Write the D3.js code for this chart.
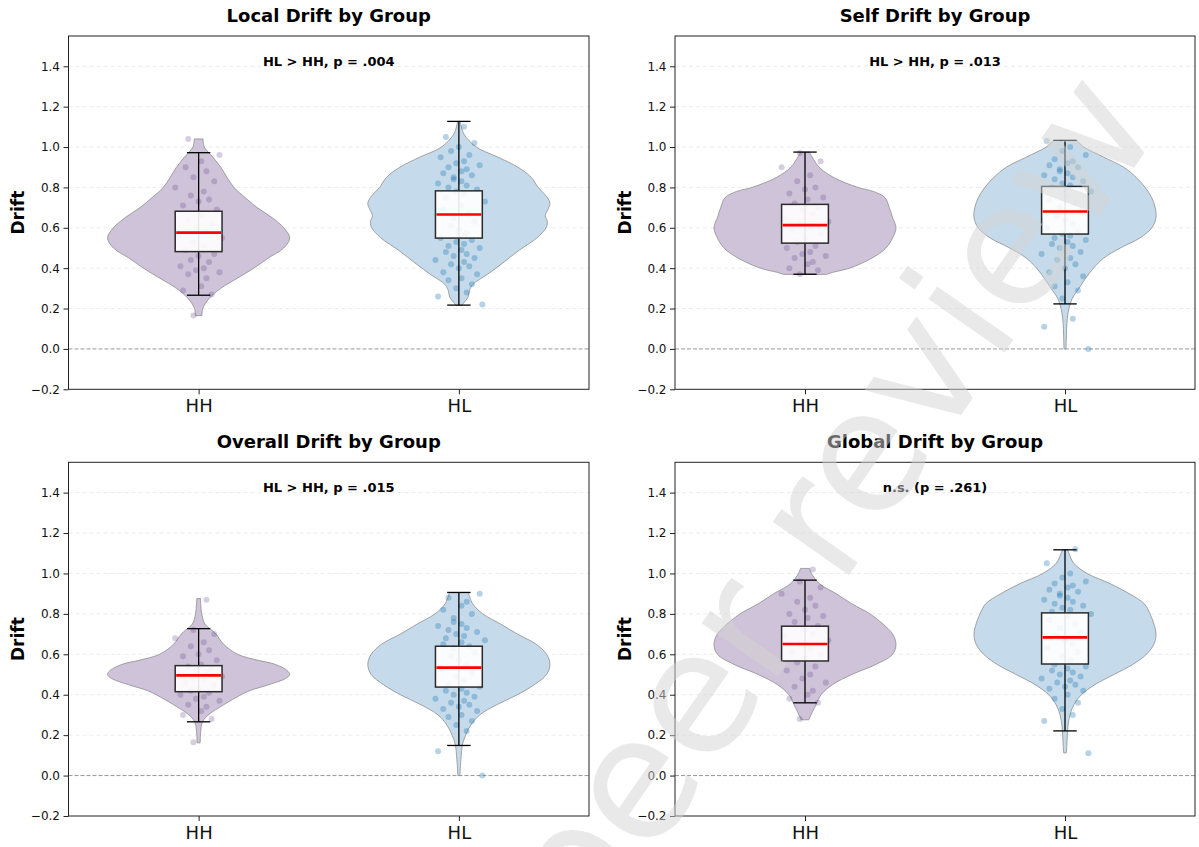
<!DOCTYPE html>
<html>
<head>
<meta charset="utf-8">
<script src="https://cdn.jsdelivr.net/npm/d3@7"></script>
<style>
  body { margin: 0; background: #fff; }
  svg { display: block; font-family: 'DejaVu Sans', sans-serif; }
</style>
</head>
<body>
<svg id="chart" width="1199" height="847"></svg>
<script>
const groups = ['HH', 'HL']
const yTicks = [-0.2, 0, 0.2, 0.4, 0.6, 0.8, 1.0, 1.2, 1.4]
const panelTitles = ['Local Drift by Group', 'Self Drift by Group', 'Overall Drift by Group', 'Global Drift by Group']
const pLabels = ['HL > HH, p = .004', 'HL > HH, p = .013', 'HL > HH, p = .015', 'n.s. (p = .261)']

// box stats: [whisker low, q1, median, q3, whisker high]
const localBoxHH = [0.266, 0.482, 0.576, 0.682, 0.972]
const localBoxHL = [0.217, 0.549, 0.666, 0.783, 1.127]
const selfBoxHH = [0.370, 0.524, 0.613, 0.716, 0.975]
const selfBoxHL = [0.223, 0.569, 0.681, 0.805, 1.033]
const overallBoxHH = [0.266, 0.415, 0.496, 0.544, 0.727]
const overallBoxHL = [0.149, 0.438, 0.534, 0.640, 0.906]
const globalBoxHH = [0.360, 0.567, 0.651, 0.739, 0.967]
const globalBoxHL = [0.221, 0.552, 0.684, 0.805, 1.117]

// violin outlines: [drift, density]
const localViolinHH = [[0.165, 0.013], [0.2, 0.016], [0.25, 0.041], [0.3, 0.086], [0.35, 0.15], [0.4, 0.214], [0.45, 0.27], [0.5, 0.33], [0.55, 0.353], [0.6, 0.33], [0.65, 0.285], [0.7, 0.227], [0.75, 0.18], [0.8, 0.137], [0.85, 0.11], [0.9, 0.086], [0.95, 0.055], [1.0, 0.022], [1.04, 0.017]]
const localViolinHL = [[0.215, 0.01], [0.23, 0.02], [0.256, 0.035], [0.29, 0.041], [0.32, 0.054], [0.37, 0.11], [0.42, 0.163], [0.49, 0.233], [0.55, 0.30], [0.6, 0.335], [0.63, 0.34], [0.66, 0.332], [0.69, 0.342], [0.72, 0.35], [0.75, 0.34], [0.8, 0.305], [0.85, 0.278], [0.9, 0.227], [0.95, 0.15], [1.0, 0.067], [1.065, 0.019], [1.127, 0.005]]
const selfViolinHH = [[0.369, 0.083], [0.38, 0.11], [0.4, 0.173], [0.45, 0.26], [0.5, 0.314], [0.55, 0.34], [0.6, 0.353], [0.65, 0.34], [0.7, 0.327], [0.75, 0.31], [0.78, 0.265], [0.8, 0.205], [0.85, 0.11], [0.9, 0.055], [0.95, 0.028], [0.975, 0.017]]
const selfViolinHL = [[0.0, 0.004], [0.05, 0.005], [0.1, 0.006], [0.15, 0.009], [0.2, 0.015], [0.25, 0.028], [0.3, 0.054], [0.35, 0.08], [0.4, 0.11], [0.45, 0.15], [0.5, 0.214], [0.55, 0.29], [0.6, 0.336], [0.65, 0.352], [0.7, 0.349], [0.75, 0.335], [0.8, 0.31], [0.85, 0.275], [0.9, 0.227], [0.95, 0.15], [1.0, 0.073], [1.033, 0.045]]
const overallViolinHH = [[0.162, 0.006], [0.2, 0.007], [0.25, 0.011], [0.27, 0.017], [0.3, 0.037], [0.35, 0.096], [0.4, 0.163], [0.42, 0.196], [0.45, 0.27], [0.48, 0.334], [0.5, 0.35], [0.52, 0.34], [0.55, 0.295], [0.57, 0.23], [0.6, 0.15], [0.65, 0.096], [0.7, 0.067], [0.72, 0.05], [0.75, 0.024], [0.8, 0.012], [0.85, 0.008], [0.876, 0.007]]
const overallViolinHL = [[0.0, 0.004], [0.05, 0.006], [0.1, 0.009], [0.15, 0.013], [0.2, 0.026], [0.25, 0.046], [0.3, 0.08], [0.35, 0.145], [0.4, 0.225], [0.45, 0.29], [0.5, 0.337], [0.55, 0.35], [0.6, 0.337], [0.65, 0.297], [0.7, 0.225], [0.75, 0.16], [0.8, 0.092], [0.85, 0.053], [0.906, 0.036]]
const globalViolinHH = [[0.276, 0.015], [0.3, 0.023], [0.35, 0.042], [0.4, 0.062], [0.45, 0.106], [0.5, 0.18], [0.55, 0.273], [0.6, 0.337], [0.65, 0.35], [0.7, 0.337], [0.75, 0.3], [0.8, 0.25], [0.85, 0.18], [0.9, 0.12], [0.95, 0.055], [1.0, 0.025], [1.025, 0.017]]
const globalViolinHL = [[0.112, 0.005], [0.15, 0.007], [0.2, 0.009], [0.25, 0.012], [0.3, 0.019], [0.35, 0.034], [0.4, 0.063], [0.45, 0.115], [0.5, 0.188], [0.55, 0.261], [0.6, 0.313], [0.65, 0.342], [0.7, 0.35], [0.75, 0.342], [0.8, 0.327], [0.85, 0.305], [0.9, 0.247], [0.95, 0.173], [1.0, 0.085], [1.05, 0.034], [1.1, 0.015], [1.117, 0.01]]

// individual subjects (a readable subset of the dots)
const localPtsHH = [0.165, 0.27, 0.29, 0.31, 0.35, 0.37, 0.38, 0.39, 0.40, 0.41, 0.43, 0.44, 0.46, 0.47, 0.49, 0.51, 0.53, 0.55, 0.57, 0.58, 0.6, 0.62, 0.64, 0.66, 0.69, 0.71, 0.73, 0.74, 0.76, 0.78, 0.8, 0.83, 0.85, 0.88, 0.9, 0.93, 0.96, 1.04]
const localPtsHL = [0.22, 0.26, 0.28, 0.3, 0.32, 0.34, 0.35, 0.37, 0.38, 0.4, 0.41, 0.42, 0.43, 0.44, 0.45, 0.46, 0.47, 0.48, 0.49, 0.5, 0.51, 0.52, 0.53, 0.54, 0.55, 0.57, 0.59, 0.61, 0.63, 0.65, 0.67, 0.69, 0.71, 0.73, 0.75, 0.77, 0.78, 0.79, 0.8, 0.81, 0.82, 0.83, 0.84, 0.85, 0.86, 0.87, 0.88, 0.89, 0.9, 0.91, 0.92, 0.93, 0.95, 0.96, 0.98, 1.0, 1.02, 1.05, 1.1]
const selfPtsHH = [0.37, 0.39, 0.40, 0.42, 0.43, 0.45, 0.46, 0.47, 0.48, 0.5, 0.51, 0.53, 0.55, 0.57, 0.59, 0.6, 0.62, 0.63, 0.65, 0.67, 0.69, 0.7, 0.72, 0.74, 0.75, 0.77, 0.79, 0.8, 0.83, 0.86, 0.9, 0.93, 0.97]
const selfPtsHL = [0.0, 0.11, 0.15, 0.25, 0.29, 0.31, 0.33, 0.36, 0.38, 0.4, 0.42, 0.44, 0.45, 0.47, 0.48, 0.5, 0.51, 0.52, 0.53, 0.54, 0.55, 0.56, 0.57, 0.58, 0.6, 0.62, 0.64, 0.66, 0.68, 0.7, 0.72, 0.74, 0.76, 0.78, 0.8, 0.81, 0.82, 0.83, 0.84, 0.85, 0.86, 0.87, 0.88, 0.89, 0.9, 0.91, 0.92, 0.93, 0.94, 0.96, 0.98, 1.0, 1.03]
const overallPtsHH = [0.165, 0.28, 0.3, 0.32, 0.34, 0.35, 0.37, 0.38, 0.39, 0.4, 0.41, 0.42, 0.43, 0.45, 0.46, 0.47, 0.48, 0.49, 0.5, 0.51, 0.52, 0.53, 0.54, 0.55, 0.57, 0.59, 0.6, 0.62, 0.64, 0.66, 0.68, 0.7, 0.72, 0.87]
const overallPtsHL = [0.0, 0.12, 0.22, 0.25, 0.27, 0.29, 0.3, 0.32, 0.33, 0.34, 0.35, 0.36, 0.37, 0.38, 0.39, 0.4, 0.41, 0.42, 0.43, 0.44, 0.45, 0.47, 0.49, 0.51, 0.53, 0.55, 0.57, 0.59, 0.61, 0.63, 0.64, 0.65, 0.66, 0.67, 0.68, 0.69, 0.7, 0.71, 0.72, 0.73, 0.74, 0.75, 0.76, 0.78, 0.8, 0.82, 0.84, 0.86, 0.88, 0.9]
const globalPtsHH = [0.28, 0.36, 0.38, 0.4, 0.42, 0.44, 0.46, 0.48, 0.5, 0.52, 0.54, 0.56, 0.58, 0.6, 0.61, 0.63, 0.65, 0.67, 0.69, 0.7, 0.72, 0.74, 0.76, 0.78, 0.79, 0.8, 0.82, 0.84, 0.86, 0.88, 0.9, 0.93, 0.96, 1.02]
const globalPtsHL = [0.11, 0.27, 0.3, 0.33, 0.36, 0.38, 0.4, 0.42, 0.43, 0.44, 0.45, 0.46, 0.47, 0.48, 0.49, 0.5, 0.51, 0.52, 0.53, 0.54, 0.55, 0.57, 0.59, 0.61, 0.63, 0.65, 0.67, 0.69, 0.71, 0.73, 0.75, 0.77, 0.79, 0.8, 0.81, 0.82, 0.83, 0.84, 0.85, 0.86, 0.87, 0.88, 0.89, 0.9, 0.91, 0.92, 0.93, 0.94, 0.95, 0.96, 0.98, 1.0, 1.05, 1.12]

// horizontal jitter of the dots, in category units
const jitter = [-0.02, 0.05, -0.06, 0.01, 0.03, -0.04, 0.08, -0.01, 0.02, -0.07, 0.04, -0.03, 0.0, 0.06, -0.05, 0.02, -0.02, 0.09, -0.08, 0.03, -0.01, 0.05, -0.04, 0.01, 0.07, -0.06, 0.0, 0.04, -0.03, 0.02, -0.09, 0.06, -0.02, 0.03, -0.05, 0.01, 0.08, -0.04, 0.02, -0.01, 0.05, -0.07, 0.03, 0.0, -0.03, 0.06, -0.02, 0.04, -0.06, 0.01, 0.1, -0.05, 0.02, -0.01, 0.07, -0.04, 0.03, -0.08, 0.01, -0.02]

const violinFill = ['#cfc3d9', '#c5dbeb']
const dotColor = ['#5b3a84', '#1f77b4']

const panels = [
  { violins: [localViolinHH, localViolinHL], boxes: [localBoxHH, localBoxHL], pts: [localPtsHH, localPtsHL] },
  { violins: [selfViolinHH, selfViolinHL], boxes: [selfBoxHH, selfBoxHL], pts: [selfPtsHH, selfPtsHL] },
  { violins: [overallViolinHH, overallViolinHL], boxes: [overallBoxHH, overallBoxHL], pts: [overallPtsHH, overallPtsHL] },
  { violins: [globalViolinHH, globalViolinHL], boxes: [globalBoxHH, globalBoxHL], pts: [globalPtsHH, globalPtsHL] }
]

const cols = [[68.5, 589], [675, 1195]]
const rows = [[36, 389.3], [462.3, 816]]

const svg = d3.select('#chart')

panels.forEach((p, i) => {
  const [x0, x1] = cols[i % 2]
  const [y0, y1] = rows[Math.floor(i / 2)]
  const x = d3.scaleLinear().domain([0.5, 2.5]).range([x0, x1])
  const y = d3.scaleLinear().domain([-0.2, 1.55]).range([y1, y0])
  const unit = x(1) - x(0)
  const g = svg.append('g')

  // grid
  g.append('g').selectAll('line')
    .data(yTicks.filter(t => t > -0.2 && t !== 0))
    .join('line')
    .attr('x1', x0).attr('x2', x1)
    .attr('y1', d => y(d)).attr('y2', d => y(d))
    .attr('stroke', '#b0b0b0')
    .attr('stroke-opacity', 0.3)
    .attr('stroke-width', 0.8)
    .attr('stroke-dasharray', '4,3')

  g.append('line')
    .attr('x1', x0).attr('x2', x1)
    .attr('y1', y(0)).attr('y2', y(0))
    .attr('stroke', '#999')
    .attr('stroke-width', 1)
    .attr('stroke-dasharray', '4,2')

  p.violins.forEach((shape, k) => {
    const cx = x(k + 1)
    const w = d3.scaleLinear().domain([0, d3.max(shape, d => d[1])]).range([0, 0.35 * unit])
    const area = d3.area()
      .curve(d3.curveCatmullRom)
      .y(d => y(d[0]))
      .x0(d => cx - w(d[1]))
      .x1(d => cx + w(d[1]))
    g.append('path')
      .datum(shape)
      .attr('d', area)
      .attr('fill', violinFill[k])
      .attr('stroke', '#888')
      .attr('stroke-opacity', 0.75)
      .attr('stroke-width', 1)
  })

  p.pts.forEach((vals, k) => {
    g.append('g').selectAll('circle')
      .data(vals)
      .join('circle')
      .attr('cx', (d, j) => x(k + 1 + jitter[(j + k * 17) % jitter.length]))
      .attr('cy', d => y(d))
      .attr('r', 3)
      .attr('fill', dotColor[k])
      .attr('fill-opacity', k === 0 ? 0.25 : 0.33)
  })

  p.boxes.forEach((b, k) => {
    const [lo, q1, med, q3, hi] = b
    const pos = k + 1
    const bg = g.append('g')
    bg.append('line')
      .attr('x1', x(pos)).attr('x2', x(pos))
      .attr('y1', y(lo)).attr('y2', y(hi))
      .attr('stroke', '#000').attr('stroke-width', 1.3)
    bg.selectAll('.cap').data([lo, hi]).join('line')
      .attr('x1', x(pos - 0.045)).attr('x2', x(pos + 0.045))
      .attr('y1', d => y(d)).attr('y2', d => y(d))
      .attr('stroke', '#000').attr('stroke-width', 1.3)
    bg.append('rect')
      .attr('x', x(pos - 0.09))
      .attr('width', x(pos + 0.09) - x(pos - 0.09))
      .attr('y', y(q3))
      .attr('height', y(q1) - y(q3))
      .attr('fill', '#fff').attr('fill-opacity', 0.9)
      .attr('stroke', '#2b2b2b').attr('stroke-width', 1.5)
    bg.append('line')
      .attr('x1', x(pos - 0.09) + 1).attr('x2', x(pos + 0.09) - 1)
      .attr('y1', y(med)).attr('y2', y(med))
      .attr('stroke', '#ff0000').attr('stroke-width', 2.6)
  })

  // axes
  const ya = g.append('g')
    .attr('transform', `translate(${x0},0)`)
    .call(d3.axisLeft(y).tickValues(yTicks).tickSize(5).tickPadding(3.5).tickFormat(d3.format('.1f')))
  ya.select('.domain').remove()
  ya.selectAll('text').attr('font-size', 12).attr('font-family', 'DejaVu Sans').attr('fill', '#111')
  ya.selectAll('line').attr('stroke', '#222')

  const xa = g.append('g')
    .attr('transform', `translate(0,${y1})`)
    .call(d3.axisBottom(x).tickValues([1, 2]).tickSize(5).tickPadding(5).tickFormat((d, j) => groups[j]))
  xa.select('.domain').remove()
  xa.selectAll('text').attr('font-size', 18).attr('font-family', 'DejaVu Sans').attr('fill', '#111')
  xa.selectAll('line').attr('stroke', '#222')

  g.append('rect')
    .attr('x', x0).attr('y', y0)
    .attr('width', x1 - x0).attr('height', y1 - y0)
    .attr('fill', 'none').attr('stroke', '#222').attr('stroke-width', 1)

  g.append('text')
    .attr('x', (x0 + x1) / 2).attr('y', y0 - 14)
    .attr('text-anchor', 'middle')
    .attr('font-size', 18).attr('font-weight', 'bold')
    .text(panelTitles[i])

  g.append('text')
    .attr('x', (x0 + x1) / 2).attr('y', y0 + 30)
    .attr('text-anchor', 'middle')
    .attr('font-size', 13).attr('font-weight', 'bold')
    .text(pLabels[i])

  g.append('text')
    .attr('transform', `translate(${x0 - 50},${(y0 + y1) / 2}) rotate(-90)`)
    .attr('text-anchor', 'middle')
    .attr('dy', '0.35em')
    .attr('font-size', 17).attr('font-weight', 'bold')
    .text('Drift')
})

// watermark
svg.append('text')
  .attr('transform', 'translate(587,949) rotate(-55)')
  .attr('font-size', 170)
  .attr('fill', '#d4d4d4')
  .attr('fill-opacity', 0.5)
  .text('peer review')
</script>
</body>
</html>
